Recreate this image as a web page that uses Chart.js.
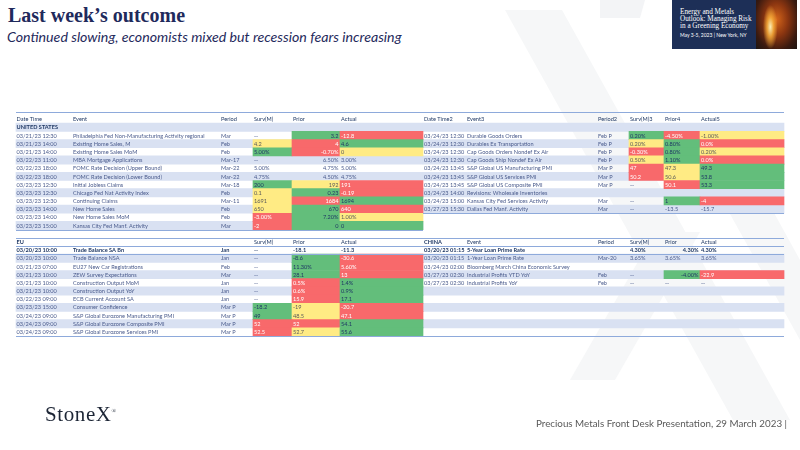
<!DOCTYPE html>
<html>
<head>
<meta charset="utf-8">
<script src="https://cdn.jsdelivr.net/npm/chart.js@4.4.1/dist/chart.umd.min.js"></script>
<style>
  html, body { margin: 0; padding: 0; background: #fff; }
  #page { position: relative; width: 800px; height: 450px; overflow: hidden; font-family: Lato, sans-serif; }
  #wm { position: absolute; left: 0; top: 0; }
  #c { position: absolute; left: 0; top: 0; }
  .title { position: absolute; left: 8px; top: 4px; font: bold 20px "Liberation Serif", serif; color: #1f2a5c; }
  .sub { position: absolute; left: 7px; top: 28px; font: italic 14.2px Lato, sans-serif; color: #1f2a5c; }
  .banner { position: absolute; left: 672px; top: 0; width: 125px; height: 49px; background: #1d2f57; overflow: hidden; }
  .btxt { position: absolute; left: 8px; top: 9px; font: 7.2px/7.2px "Liberation Serif", serif; color: #fff; }
  .bdate { position: absolute; left: 8px; top: 32px; font: 5px Lato, sans-serif; color: #fff; }
  .bimg { position: absolute; left: 84px; top: 0; width: 41px; height: 49px;
    background:
      radial-gradient(ellipse 18% 45% at 35% 55%, rgba(255,246,190,0.95) 0%, rgba(255,180,60,0.8) 45%, rgba(255,140,30,0) 100%),
      radial-gradient(ellipse at 50% 40%, #d4651a 0%, #8a3510 40%, #3a1a10 75%, #1d1512 100%); }
  .logo { position: absolute; left: 45px; top: 402px; font: 21px "Liberation Serif", serif; letter-spacing: 0.6px; color: #1c2535; }
  .logo sup { font-size: 6px; }
  .foot { position: absolute; left: 536px; top: 417px; font: 9.8px Lato, sans-serif; color: #595959; }
</style>
</head>
<body>
<div id="page">
  <svg id="wm" width="800" height="450">
    <polygon points="600,0 645,0 640,18 600,18" fill="#f3f4f6"/>
    <polygon points="505,10 562,10 790,420 733,420" fill="#f6f7f8"/>
    <polygon points="700,160 745,160 800,260 800,340" fill="#f6f7f8"/>
    <polygon points="655,232 700,232 615,380 570,380" fill="#f6f7f8"/>
  </svg>
  <div class="title">Last week’s outcome</div>
  <div class="sub">Continued slowing, economists mixed but recession fears increasing</div>
  <div class="banner">
    <div class="btxt">Energy and Metals<br>Outlook: Managing Risk<br>in a Greening Economy</div>
    <div class="bdate">May 3-5, 2023 | New York, NY</div>
    <div class="bimg"></div>
  </div>
  <canvas id="c" width="800" height="450"></canvas>
  <div class="logo">StoneX<sup>®</sup></div>
  <div class="foot">Precious Metals Front Desk Presentation, 29 March 2023 |</div>
</div>
<script>
// heat codes: g = green, r = red, y = yellow, - = none (surv, prior, actual)
const usHeaders  = ['Date Time', 'Event', 'Period', 'Surv(M)', 'Prior', 'Actual'];
const us2Headers = ['Date Time2', 'Event3', 'Period2', 'Surv(M)3', 'Prior4', 'Actual5'];
const euHeaders  = ['EU', '', '', 'Surv(M)', 'Prior', 'Actual'];
const cnHeaders  = ['CHINA', 'Event', 'Period', 'Surv(M)', 'Prior', 'Actual'];

const usDates   = ['03/21/23 12:30', '03/21/23 14:00', '03/21/23 14:00', '03/22/23 11:00', '03/22/23 18:00', '03/22/23 18:00',
                   '03/23/23 12:30', '03/23/23 12:30', '03/23/23 12:30', '03/23/23 14:00', '03/23/23 14:00', '03/23/23 15:00'];
const usEvents  = ['Philadelphia Fed Non-Manufacturing Activity regional', 'Existing Home Sales, M', 'Existing Home Sales MoM',
                   'MBA Mortgage Applications', 'FOMC Rate Decision (Upper Bound)', 'FOMC Rate Decision (Lower Bound)',
                   'Initial Jobless Claims', 'Chicago Fed Nat Activity Index', 'Continuing Claims', 'New Home Sales',
                   'New Home Sales MoM', 'Kansas City Fed Manf. Activity'];
const usPeriods = ['Mar', 'Feb', 'Feb', 'Mar-17', 'Mar-22', 'Mar-22', 'Mar-18', 'Feb', 'Mar-11', 'Feb', 'Feb', 'Mar'];
const usSurv    = ['--', '4.2', '5.00%', '--', '5.00%', '4.75%', '200', '0.1', '1691', '650', '-3.00%', '-2'];
const usPrior   = ['3.2', '4', '-0.70%', '6.50%', '4.75%', '4.50%', '192', '0.23', '1684', '670', '7.20%', '0'];
const usActual  = ['-12.8', '4.6', '0', '3.00%', '5.00%', '4.75%', '191', '-0.19', '1694', '640', '1.00%', '0'];
const usHeat    = ['-gr', 'yrg', 'gry', '---', '---', '---', 'gyr', 'ygr', 'yrg', 'ygr', 'rgy', 'rgg'];

const us2Dates   = ['03/24/23 12:30', '03/24/23 12:30', '03/24/23 12:30', '03/24/23 12:30', '03/24/23 13:45',
                    '03/24/23 13:45', '03/24/23 13:45', '03/24/23 14:00', '03/24/23 15:00', '03/27/23 15:30'];
const us2Events  = ['Durable Goods Orders', 'Durables Ex Transportation', 'Cap Goods Orders Nondef Ex Air',
                    'Cap Goods Ship Nondef Ex Air', 'S&P Global US Manufacturing PMI', 'S&P Global US Services PMI',
                    'S&P Global US Composite PMI', 'Revisions: Wholesale Inventories', 'Kansas City Fed Services Activity',
                    'Dallas Fed Manf. Activity'];
const us2Periods = ['Feb P', 'Feb P', 'Feb P', 'Feb P', 'Mar P', 'Mar P', 'Mar P', '', 'Mar', 'Mar'];
const us2Surv    = ['0.20%', '0.20%', '-0.30%', '0.50%', '47', '50.2', '--', '', '--', '--'];
const us2Prior   = ['-4.50%', '0.80%', '0.80%', '1.10%', '47.3', '50.6', '50.1', '', '1', '-13.5'];
const us2Actual  = ['-1.00%', '0.0%', '0.20%', '0.0%', '49.3', '53.8', '53.3', '', '-4', '-15.7'];
const us2Heat    = ['gry', 'ygr', 'rgy', 'ygr', 'ryg', 'ryg', '-rg', '---', '-gr', '---'];

const euDates   = ['03/20/23 10:00', '03/20/23 10:00', '03/21/23 07:00', '03/21/23 10:00', '03/21/23 10:00', '03/21/23 10:00',
                   '03/22/23 09:00', '03/23/23 15:00', '03/24/23 09:00', '03/24/23 09:00', '03/24/23 09:00'];
const euEvents  = ['Trade Balance SA Bn', 'Trade Balance NSA', 'EU27 New Car Registrations', 'ZEW Survey Expectations',
                   'Construction Output MoM', 'Construction Output YoY', 'ECB Current Account SA', 'Consumer Confidence',
                   'S&P Global Eurozone Manufacturing PMI', 'S&P Global Eurozone Composite PMI', 'S&P Global Eurozone Services PMI'];
const euPeriods = ['Jan', 'Jan', 'Feb', 'Mar', 'Jan', 'Jan', 'Jan', 'Mar P', 'Mar P', 'Mar P', 'Mar P'];
const euSurv    = ['--', '--', '--', '--', '--', '--', '--', '-18.2', '49', '52', '52.5'];
const euPrior   = ['-18.1', '-8.6', '11.30%', '28.1', '0.5%', '0.6%', '15.9', '-19', '48.5', '52', '52.7'];
const euActual  = ['-11.3', '-30.6', '5.60%', '13', '1.4%', '0.9%', '17.1', '-20.7', '47.1', '54.1', '55.6'];
const euHeat    = ['---', '-gr', '-gr', '-gr', '-rg', '-rg', '-rg', 'gyr', 'gyr', 'rrg', 'ryg'];

const cnDates   = ['03/20/23 01:15', '03/20/23 01:15', '03/24/23 02:00', '03/27/23 02:30', '03/27/23 02:30'];
const cnEvents  = ['5-Year Loan Prime Rate', '1-Year Loan Prime Rate', 'Bloomberg March China Economic Survey',
                   'Industrial Profits YTD YoY', 'Industrial Profits YoY'];
const cnPeriods = ['', 'Mar-20', '', 'Feb', 'Feb'];
const cnSurv    = ['4.30%', '3.65%', '', '--', '--'];
const cnPrior   = ['4.30%', '3.65%', '', '-4.00%', '--'];
const cnActual  = ['4.30%', '3.65%', '', '-22.9', '--'];
const cnHeat    = ['---', '---', '---', '-gr', '---'];

// layout
const HEAT = { g: '#63be7b', r: '#f8696b', y: '#ffeb84' };
const STRIPE = '#d9e1f2';
const LINE = '#8eaadb';
const FONT = '5.6px Lato';
const LEFT_COLS  = { x0: 16, x1: 423, text: [16.5, 73, 221, 254, 293, 341], cells: [[253, 292], [292, 340], [340, 423]] };
const RIGHT_COLS = { x0: 423, x1: 784, text: [424, 467, 598, 630, 665, 701], cells: [[629, 664], [664, 700], [700, 784]] };

const tables = [
  { cols: LEFT_COLS, headers: usHeaders, headRow: 0, firstRow: 2, lastRow: 13, section: 'UNITED STATES',
    cols6: [usDates, usEvents, usPeriods, usSurv, usPrior, usActual], heat: usHeat, priorRight: () => true },
  { cols: RIGHT_COLS, headers: us2Headers, headRow: 0, firstRow: 2, lastRow: 11, section: '',
    cols6: [us2Dates, us2Events, us2Periods, us2Surv, us2Prior, us2Actual], heat: us2Heat, priorRight: () => false },
  { cols: LEFT_COLS, headers: euHeaders, headRow: 15, firstRow: 16, lastRow: 26, boldFirst: true,
    cols6: [euDates, euEvents, euPeriods, euSurv, euPrior, euActual], heat: euHeat, priorRight: () => false },
  { cols: RIGHT_COLS, headers: cnHeaders, headRow: 15, firstRow: 16, lastRow: 26, boldFirst: true,
    cols6: [cnDates, cnEvents, cnPeriods, cnSurv, cnPrior, cnActual], heat: cnHeat, priorRight: i => i === 0 || i === 3 },
];

const rowLabels = Array.from({ length: 27 }, (_, i) => String(i));

// stripe bars and heat-cell bars
const stripeData = [];
const heatData = [];
const heatColors = [];
tables.forEach(t => {
  if (t.section !== undefined) stripeData.push({ x: [t.cols.x0, t.cols.x1], y: String(t.headRow + 1) });
  for (let r = t.firstRow; r <= t.lastRow; r++) {
    if (r % 2 === 1) stripeData.push({ x: [t.cols.x0, t.cols.x1], y: String(r) });
  }
  t.heat.forEach((code, i) => {
    code.split('').forEach((h, k) => {
      if (HEAT[h]) {
        heatData.push({ x: t.cols.cells[k], y: String(t.firstRow + i) });
        heatColors.push(HEAT[h]);
      }
    });
  });
});

const tableText = {
  id: 'tableText',
  afterDatasetsDraw(chart) {
    const { ctx, scales: { x, y } } = chart;
    const pitch = y.getPixelForValue(1) - y.getPixelForValue(0);
    const cy = r => y.getPixelForValue(r);
    const hline = (yy, a, b) => {
      ctx.beginPath();
      ctx.moveTo(x.getPixelForValue(a), Math.round(yy) + 0.5);
      ctx.lineTo(x.getPixelForValue(b), Math.round(yy) + 0.5);
      ctx.stroke();
    };
    ctx.save();
    ctx.strokeStyle = LINE;
    ctx.lineWidth = 1;
    hline(cy(0) - pitch * 0.9, 16, 784);
    hline(cy(13) + pitch / 2, 16, 423);
    hline(cy(11) + pitch / 2, 423, 784);
    hline(cy(15) - pitch / 2, 16, 784);
    hline(cy(15) + pitch / 2, 16, 784);
    hline(cy(16) + pitch / 2, 16, 784);
    hline(cy(26) + pitch / 2, 16, 784);

    ctx.textBaseline = 'middle';
    tables.forEach(t => {
      const tx = t.cols.text;
      t.headers.forEach((h, k) => {
        const bold = k === 0 && t.headRow === 15;
        ctx.font = (bold ? 'bold ' : '') + FONT;
        ctx.fillStyle = '#1f3864';
        ctx.textAlign = 'left';
        ctx.fillText(h, x.getPixelForValue(tx[k]), cy(t.headRow) + 0.3);
      });
      if (t.section) {
        ctx.font = 'bold ' + FONT;
        ctx.fillStyle = '#1f3864';
        ctx.fillText(t.section, x.getPixelForValue(tx[0]), cy(1) + 0.3);
      }
      t.cols6[0].forEach((_, i) => {
        const row = t.firstRow + i;
        const bold = t.boldFirst && i === 0;
        ctx.font = (bold ? 'bold ' : '') + FONT;
        t.cols6.forEach((col, k) => {
          const val = col[i];
          if (!val) return;
          let color = bold ? '#1f3864' : '#4a5b8c';
          if (k >= 3) {
            const h = t.heat[i][k - 3];
            if (h === 'r') color = '#ffffff';
            else if (h === 'g') color = '#1f3864';
            else if (h === 'y') color = '#5a5a5a';
          }
          ctx.fillStyle = color;
          if (k === 4 && t.priorRight(i)) {
            ctx.textAlign = 'right';
            ctx.fillText(val, x.getPixelForValue(t.cols.cells[1][1] - 1.5), cy(row) + 0.3);
          } else {
            ctx.textAlign = 'left';
            ctx.fillText(val, x.getPixelForValue(tx[k]), cy(row) + 0.3);
          }
        });
      });
    });
    ctx.restore();
  }
};

new Chart(document.getElementById('c'), {
  type: 'bar',
  data: {
    labels: rowLabels,
    datasets: [
      { label: 'stripes', data: stripeData, backgroundColor: STRIPE, grouped: false, order: 2,
        barPercentage: 1, categoryPercentage: 1, borderWidth: 0 },
      { label: 'heat', data: heatData, backgroundColor: heatColors, grouped: false, order: 1,
        barPercentage: 1, categoryPercentage: 1, borderWidth: 0 },
    ],
  },
  options: {
    indexAxis: 'y',
    responsive: false,
    animation: false,
    events: [],
    layout: { padding: { top: 115, bottom: 114, left: 0, right: 0 } },
    plugins: { legend: { display: false }, tooltip: { enabled: false } },
    scales: {
      x: { type: 'linear', min: 0, max: 800, display: false },
      y: { type: 'category', display: false },
    },
  },
  plugins: [tableText],
});
</script>
</body>
</html>
